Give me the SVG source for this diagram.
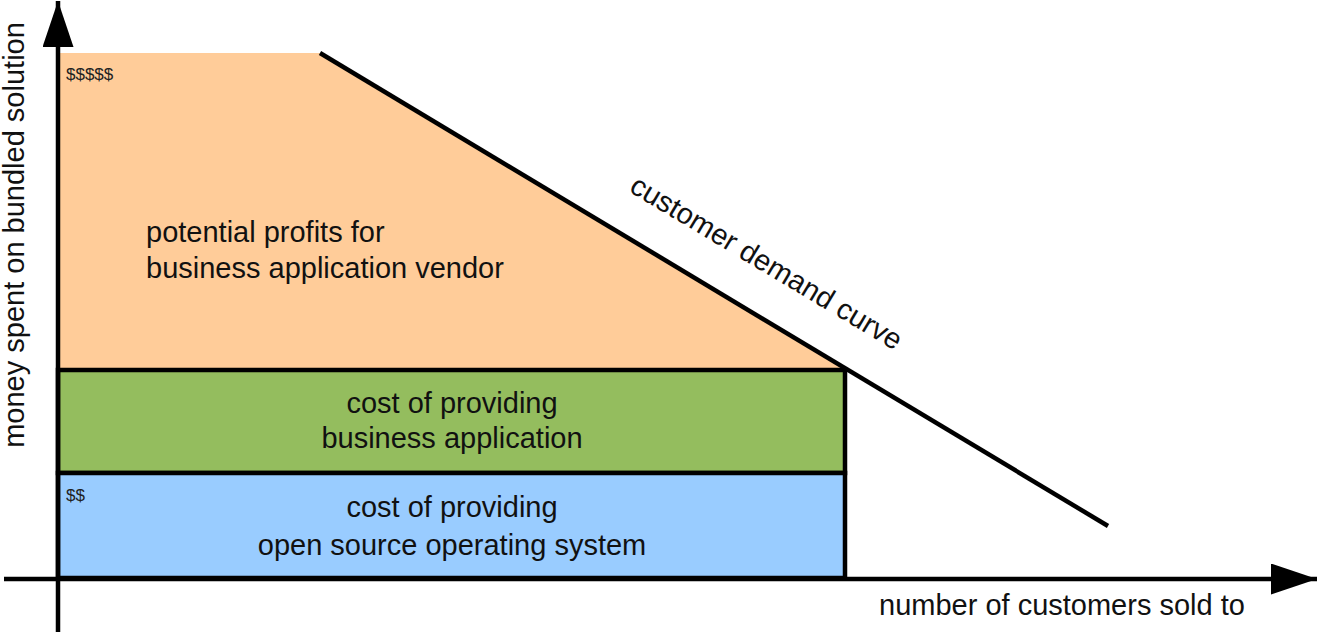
<svg xmlns="http://www.w3.org/2000/svg" width="1319" height="633" viewBox="0 0 1319 633">
  <defs>
    <style>
      .lbl { font-family: "Liberation Sans", Arial, sans-serif; font-size: 29px; fill: #111; }
      .sm { font-family: "Liberation Sans", Arial, sans-serif; font-size: 17px; fill: #222; }
      .edge { stroke: #000; stroke-width: 4.5; fill: none; }
    </style>
    <marker id="arrow" viewBox="0 0 46 31" refX="46" refY="15.5" markerWidth="46" markerHeight="31" markerUnits="userSpaceOnUse" orient="auto">
      <path d="M0,0 L46,15.5 L0,31 Z" fill="#000"/>
    </marker>
  </defs>
  <rect width="1319" height="633" fill="#fff"/>

  <g id="profits">
    <polygon points="60,53 320,53 846,370 60,370" fill="#FFCC99"/>
    <text class="sm" x="66" y="80">$$$$$</text>
    <text class="lbl" x="146" y="242">potential profits for</text>
    <text class="lbl" x="146" y="278">business application vendor</text>
  </g>

  <g id="business-cost">
    <rect x="58" y="370" width="787" height="103" fill="#94BD5E" stroke="#000" stroke-width="4.5"/>
    <text class="lbl" x="452" y="413" text-anchor="middle">cost of providing</text>
    <text class="lbl" x="452" y="448" text-anchor="middle">business application</text>
  </g>

  <g id="os-cost">
    <rect x="58" y="473" width="787" height="105" fill="#99CCFF" stroke="#000" stroke-width="4.5"/>
    <text class="sm" x="66" y="501">$$</text>
    <text class="lbl" x="452" y="517" text-anchor="middle">cost of providing</text>
    <text class="lbl" x="452" y="555" text-anchor="middle">open source operating system</text>
  </g>

  <g id="connectors">
    <line class="edge" x1="320" y1="53" x2="1108" y2="526"/>
    <line class="edge" x1="58" y1="632" x2="58" y2="1" marker-end="url(#arrow)"/>
    <line class="edge" x1="4" y1="579" x2="1317" y2="579" marker-end="url(#arrow)"/>
  </g>

  <g id="axis-labels">
    <text class="lbl" transform="translate(24,235) rotate(-90)" text-anchor="middle">money spent on bundled solution</text>
    <text class="lbl" x="879" y="615">number of customers sold to</text>
    <text class="lbl" transform="translate(628,191) rotate(30.9)">customer demand curve</text>
  </g>
</svg>
